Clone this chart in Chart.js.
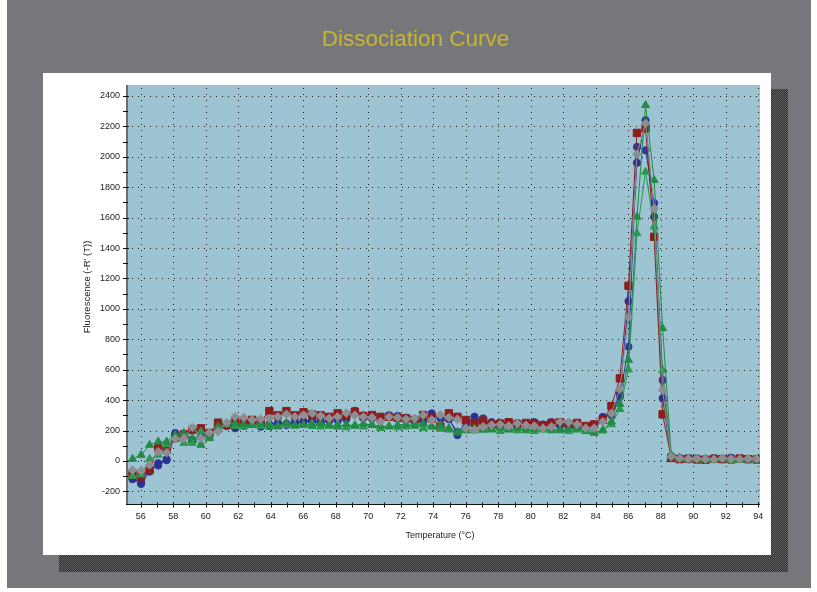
<!DOCTYPE html>
<html>
<head>
<meta charset="utf-8">
<script src="https://cdn.jsdelivr.net/npm/chart.js@4.4.1/dist/chart.umd.min.js"></script>
<style>
  html, body { margin: 0; padding: 0; background: #ffffff; }
  canvas { display: block; }
</style>
</head>
<body>
<canvas id="c" width="817" height="592"></canvas>
<script>
// ---- data ----
const chartTitle = 'Dissociation Curve';
const xTitle = 'Temperature (°C)';
const yTitle = "Fluorescence (-R' (T))";

const xTicks = [56, 58, 60, 62, 64, 66, 68, 70, 72, 74, 76, 78, 80, 82, 84, 86, 88, 90, 92, 94];
const xMinorTicks = [57, 59, 61, 63, 65, 67, 69, 71, 73, 75, 77, 79, 81, 83, 85, 87, 89, 91, 93];
const yTicks = [-200, 0, 200, 400, 600, 800, 1000, 1200, 1400, 1600, 1800, 2000, 2200, 2400];
const yMinorTicks = [-100, 100, 300, 500, 700, 900, 1100, 1300, 1500, 1700, 1900, 2100, 2300];

const temps = [
  55.50, 56.03, 56.55, 57.08, 57.60, 58.13, 58.66, 59.18, 59.71, 60.23,
  60.76, 61.29, 61.81, 62.34, 62.86, 63.39, 63.92, 64.44, 64.97, 65.49,
  66.02, 66.55, 67.07, 67.60, 68.12, 68.65, 69.18, 69.70, 70.23, 70.75,
  71.28, 71.81, 72.33, 72.86, 73.38, 73.91, 74.44, 74.96, 75.49, 76.01,
  76.54, 77.07, 77.59, 78.12, 78.64, 79.17, 79.70, 80.22, 80.75, 81.27,
  81.80, 82.33, 82.85, 83.38, 83.90, 84.43, 84.96, 85.48, 86.01, 86.53,
  87.06, 87.59, 88.11, 88.64, 89.16, 89.69, 90.22, 90.74, 91.27, 91.79,
  92.32, 92.85, 93.37, 93.90
];

const blueA = [
  -114, -151, -70, -15, 11, 184, 165, 138, 171, 171,
  236, 230, 225, 240, 245, 235, 240, 250, 245, 255,
  262, 270, 258, 265, 280, 290, 330, 300, 290, 285,
  300, 295, 285, 270, 275, 313, 290, 280, 170, 240,
  291, 260, 255, 240, 245, 250, 235, 250, 240, 255,
  230, 245, 225, 210, 240, 290, 310, 440, 1050, 1960,
  2240, 1605, 412, 28, 15, 12, 18, 10, 14, 12,
  20, 15, 10, 12
];
const blueB = [
  -120, -140, -60, -30, 5, 170, 180, 130, 160, 180,
  225, 245, 215, 230, 250, 225, 230, 245, 235, 250,
  255, 260, 250, 270, 265, 275, 320, 285, 280, 275,
  290, 280, 275, 265, 260, 300, 280, 275, 190, 250,
  270, 280, 245, 250, 235, 240, 245, 255, 235, 245,
  245, 235, 230, 225, 230, 280, 300, 420, 751, 2065,
  2043, 1695, 532, 30, 20, 10, 15, 12, 18, 16,
  22, 14, 12, 8
];
const redA = [
  -92, -103, -60, 85, 72, 151, 175, 204, 215, 184,
  252, 236, 258, 250, 270, 260, 328, 300, 328, 300,
  320, 305, 300, 290, 313, 300, 324, 295, 302, 290,
  290, 285, 280, 270, 302, 280, 225, 313, 290, 270,
  250, 265, 240, 245, 255, 240, 250, 245, 235, 250,
  255, 240, 250, 230, 240, 270, 361, 543, 1152, 2157,
  2186, 1474, 307, 20, 12, 15, 10, 8, 14, 12,
  10, 16, 12, 10
];
const greenA = [
  13, 39, 105, 127, 127, 171, 184, 149, 105, 149,
  225, 248, 248, 240, 235, 245, 225, 230, 250, 235,
  240, 230, 245, 235, 225, 240, 230, 245, 235, 230,
  225, 235, 240, 230, 245, 225, 235, 215, 184, 200,
  215, 204, 210, 220, 205, 215, 200, 210, 215, 200,
  205, 210, 215, 195, 184, 204, 258, 374, 664, 1605,
  2339, 1846, 872, 40, 20, 12, 10, 14, 8, 12,
  10, 6, 12, 8
];
const greenB = [
  -100, -90, 13, 39, 110, 160, 118, 118, 193, 160,
  210, 240, 230, 225, 240, 230, 240, 225, 235, 230,
  235, 245, 225, 230, 240, 220, 235, 225, 240, 215,
  230, 220, 225, 245, 215, 230, 210, 205, 190, 215,
  200, 215, 205, 195, 210, 200, 215, 195, 205, 210,
  200, 195, 205, 215, 190, 199, 240, 340, 600, 1496,
  1901, 1540, 598, 35, 15, 10, 12, 8, 10, 14,
  6, 10, 8, 10
];
const grayA = [
  -60, -64, -26, 61, 55, 145, 149, 221, 149, 186,
  193, 252, 291, 285, 270, 276, 280, 291, 307, 290,
  302, 313, 295, 280, 290, 315, 300, 290, 285, 258,
  290, 285, 275, 280, 302, 270, 302, 285, 274, 215,
  204, 225, 236, 240, 230, 247, 235, 230, 215, 225,
  258, 255, 240, 215, 215, 258, 313, 473, 944, 2017,
  2219, 1660, 466, 28, 18, 14, 16, 12, 10, 18,
  14, 12, 16, 14
];

const seriesNames = ['Gray', 'Green 1', 'Green 2', 'Red', 'Blue 1', 'Blue 2'];
const seriesValues = [grayA, greenA, greenB, redA, blueA, blueB];
const seriesColors = ['#8e8e92', '#238b45', '#2c9a4e', '#8c1d1d', '#2e3192', '#34379a'];
const seriesMarkers = ['rectRot', 'triangle', 'triangle', 'rect', 'circle', 'circle'];
const markerSizes = [4.3, 4.6, 4.6, 5.2, 3.6, 3.6];

// ---- chart ----
const FONT = "'Liberation Sans', Arial, sans-serif";

function toPoints(vals) { return vals.map((v, i) => ({ x: temps[i], y: v })); }

const datasets = seriesValues.map((vals, i) => ({
  label: seriesNames[i],
  data: toPoints(vals),
  borderColor: seriesColors[i],
  backgroundColor: seriesColors[i],
  pointBackgroundColor: seriesColors[i],
  pointBorderColor: seriesColors[i],
  pointStyle: seriesMarkers[i],
  pointRadius: markerSizes[i],
  pointBorderWidth: 1,
  borderWidth: 1,
  tension: 0,
  fill: false
}));

let shadowPattern = null;
function getPattern(ctx) {
  if (shadowPattern) return shadowPattern;
  const pc = document.createElement('canvas');
  pc.width = 2; pc.height = 2;
  const p = pc.getContext('2d');
  p.fillStyle = '#303030'; p.fillRect(0, 0, 2, 2);
  p.fillStyle = '#626262'; p.fillRect(0, 0, 1, 1); p.fillRect(1, 1, 1, 1);
  shadowPattern = ctx.createPattern(pc, 'repeat');
  return shadowPattern;
}

const framePlugin = {
  id: 'frame',
  beforeDraw(chart) {
    const c = chart.ctx;
    const a = chart.chartArea;
    c.save();
    c.fillStyle = '#ffffff'; c.fillRect(0, 0, 817, 592);
    c.fillStyle = '#76777b'; c.fillRect(7, 0, 804, 588);
    c.fillStyle = getPattern(c); c.fillRect(59, 89, 729, 483);
    c.fillStyle = '#ffffff'; c.fillRect(43, 73, 728, 482);
    c.fillStyle = '#9cc4d2'; c.fillRect(a.left, a.top, a.right - a.left, a.bottom - a.top);
    // main title
    c.font = '22.5px ' + FONT;
    c.fillStyle = '#cab42e';
    c.textAlign = 'center'; c.textBaseline = 'alphabetic';
    c.fillText(chartTitle, 415.5, 46);
    // axis titles
    c.fillStyle = '#1a1a1a';
    c.font = '9px ' + FONT;
    c.fillText(xTitle, (a.left + a.right) / 2 - 3, 538);
    c.save();
    c.translate(90, 287);
    c.rotate(-Math.PI / 2);
    c.font = '9.5px ' + FONT;
    c.textAlign = 'center'; c.textBaseline = 'alphabetic';
    c.fillText(yTitle, 0, 0);
    c.restore();
    c.restore();
  },
  beforeDatasetsDraw(chart) {
    const c = chart.ctx;
    const a = chart.chartArea;
    const xs = chart.scales.x, ys = chart.scales.y;
    c.save();
    // dotted grid
    c.strokeStyle = '#1c1c1c';
    c.lineWidth = 1;
    c.setLineDash([1, 5]);
    xTicks.forEach(v => {
      const px = Math.round(xs.getPixelForValue(v)) + 0.5;
      c.beginPath(); c.moveTo(px, a.top + 3); c.lineTo(px, a.bottom); c.stroke();
    });
    yTicks.forEach(v => {
      const py = Math.round(ys.getPixelForValue(v)) + 0.5;
      c.beginPath(); c.moveTo(a.left, py); c.lineTo(a.right, py); c.stroke();
    });
    c.setLineDash([]);
    // axis lines
    c.strokeStyle = '#6e6e6e'; c.lineWidth = 2;
    c.beginPath(); c.moveTo(a.left + 1, a.top); c.lineTo(a.left + 1, a.bottom); c.stroke();
    c.strokeStyle = '#111111'; c.lineWidth = 1;
    const by = Math.round(a.bottom) + 0.5;
    c.beginPath(); c.moveTo(a.left, by); c.lineTo(a.right, by); c.stroke();
    // y ticks
    yTicks.forEach(v => {
      const py = Math.round(ys.getPixelForValue(v)) + 0.5;
      c.beginPath(); c.moveTo(a.left - 3, py); c.lineTo(a.left + 3, py); c.stroke();
    });
    yMinorTicks.forEach(v => {
      const py = Math.round(ys.getPixelForValue(v)) + 0.5;
      c.beginPath(); c.moveTo(a.left - 3, py); c.lineTo(a.left + 2, py); c.stroke();
    });
    // x ticks
    xTicks.concat(xMinorTicks).forEach(v => {
      const px = Math.round(xs.getPixelForValue(v)) + 0.5;
      c.beginPath(); c.moveTo(px, by - 2); c.lineTo(px, by + 3); c.stroke();
    });
    c.restore();
  }
};

new Chart(document.getElementById('c'), {
  type: 'line',
  data: { datasets },
  plugins: [framePlugin],
  options: {
    responsive: false,
    animation: false,
    events: [],
    layout: { padding: { left: 77, right: 57, top: 85, bottom: 50 } },
    plugins: {
      legend: { display: false },
      title: { display: false },
      tooltip: { enabled: false }
    },
    scales: {
      x: {
        type: 'linear',
        min: 55.1,
        max: 94.1,
        afterBuildTicks: s => { s.ticks = xTicks.map(v => ({ value: v })); },
        afterFit: s => { s.height = 38; },
        grid: { display: false, drawTicks: false },
        border: { display: false },
        ticks: {
          autoSkip: false, maxRotation: 0, padding: 7,
          color: '#1a1a1a', font: { family: FONT, size: 9 },
          callback: v => String(v)
        }
      },
      y: {
        type: 'linear',
        min: -283,
        max: 2472,
        afterBuildTicks: s => { s.ticks = yTicks.map(v => ({ value: v })); },
        afterFit: s => { s.width = 49; },
        grid: { display: false, drawTicks: false },
        border: { display: false },
        ticks: {
          autoSkip: false, padding: 6,
          color: '#1a1a1a', font: { family: FONT, size: 9 },
          callback: v => String(v)
        }
      }
    }
  }
});
</script>
</body>
</html>
